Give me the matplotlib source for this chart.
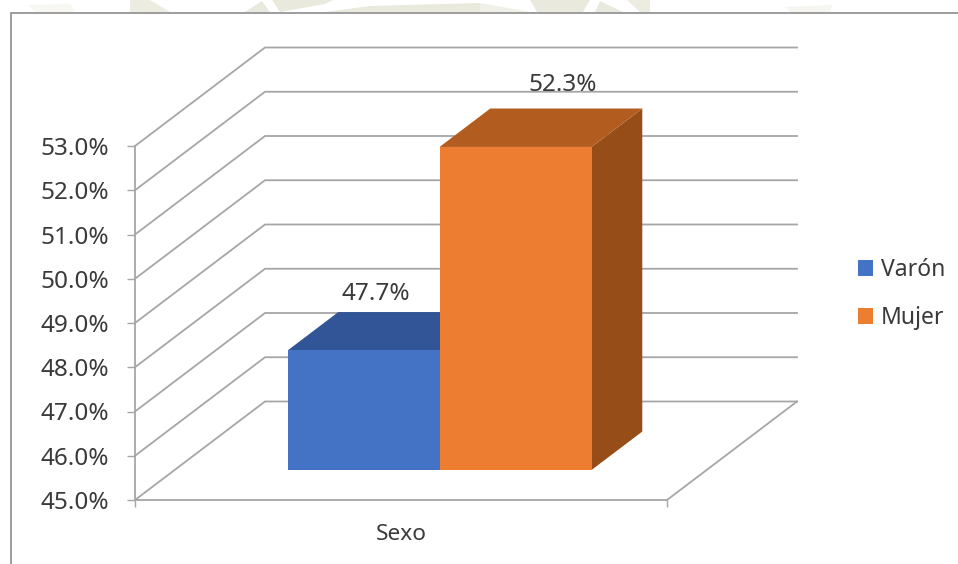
import matplotlib
matplotlib.use("Agg")
import matplotlib.pyplot as plt
from matplotlib.patches import Polygon, Rectangle

plt.rcParams['font.family'] = ['Noto Sans', 'DejaVu Sans']

categories = ["Sexo"]
series_names = ["Varón", "Mujer"]
series_values = [47.7, 52.3]
value_labels = ["47.7%", "52.3%"]
tick_values = [45, 46, 47, 48, 49, 50, 51, 52, 53]
tick_labels = ["45.0%", "46.0%", "47.0%", "48.0%", "49.0%", "50.0%", "51.0%", "52.0%", "53.0%"]

W, H = 958, 564
GRID = "#A6A6A6"
TEXT = "#3A3A3A"
front = ["#4472C4", "#ED7D31"]
top = ["#325597", "#B35C20"]
side = ["#2F5597", "#964D18"]
label_offsets = [(8.6, 40.5), (34, 44.5)]

fig = plt.figure(figsize=(W / 100, H / 100), dpi=100, facecolor="white")

# faint watermark behind the chart, in figure pixels
bg = fig.add_axes([0, 0, 1, 1], zorder=0)
bg.set_xlim(0, W)
bg.set_ylim(H, 0)
bg.axis("off")
for pts, c in [
    ([(28, 5), (70, 4), (75, 12), (35, 12)], "#F8F7F2"),
    ([(130, 0), (150, 0), (170, 12), (130, 12)], "#ECECE1"),
    ([(245, 12), (262, 1), (270, 12)], "#E9E9DD"),
    ([(272, 0), (333, 0), (325, 4), (280, 12)], "#E9E9DD"),
    ([(325, 12), (370, 6), (480, 3), (480, 12)], "#E9E9DD"),
    ([(480, 3), (530, 12), (480, 12)], "#F0F0E7"),
    ([(530, 0), (590, 0), (583, 12), (537, 12)], "#E9E9DD"),
    ([(600, 1), (623, 12), (595, 12)], "#E9E9DD"),
    ([(627, 0), (650, 0), (650, 12), (640, 12)], "#ECECE1"),
    ([(785, 7), (832, 5), (830, 12), (790, 12)], "#F6F5EF"),
]:
    bg.add_patch(Polygon(pts, closed=True, fc=c, ec="none"))
bg.add_patch(Rectangle((11, 12.5), W, H, fc="white", ec="#8C8C8C", lw=1.2))

ax = fig.add_axes([135 / W, 1 - 500 / H, 532 / W, 354 / H], zorder=1)
ax.patch.set_alpha(0)
ax.set_xlim(0, 1)
ax.set_ylim(45, 53)

DX = 130 / 532
DY = 98.5 / 44.25


def project(x, v, d):
    return x + d * DX, v + d * DY


# back wall, side wall and floor gridlines
for v in tick_values:
    xs, ys = zip(project(0, v, 0), project(0, v, 1), project(1, v, 1))
    ax.plot(xs, ys, color=GRID, lw=1.3, clip_on=False, zorder=1, solid_joinstyle="miter")
xs, ys = zip(project(1, 45, 1), project(1, 45, 0))
ax.plot(xs, ys, color=GRID, lw=1.3, clip_on=False, zorder=1)

# bars
bar_w = 152 / 532
x0 = 0.5 - bar_w - 0.002
d0, d1 = 0.305, 0.695
for i, v in enumerate(series_values):
    xl = x0 + i * bar_w
    xr = xl + bar_w
    face = [project(xl, 45, d0), project(xr, 45, d0), project(xr, v, d0), project(xl, v, d0)]
    roof = [project(xl, v, d0), project(xr, v, d0), project(xr, v, d1), project(xl, v, d1)]
    wall = [project(xr, 45, d0), project(xr, 45, d1), project(xr, v, d1), project(xr, v, d0)]
    ax.add_patch(Polygon(wall, closed=True, fc=side[i], ec="none", clip_on=False, zorder=3))
    ax.add_patch(Polygon(roof, closed=True, fc=top[i], ec="none", clip_on=False, zorder=3))
    ax.add_patch(Polygon(face, closed=True, fc=front[i], ec="none", clip_on=False, zorder=4,
                         label=series_names[i]))
    ax.annotate(value_labels[i], xy=project((xl + xr) / 2, v, d0), xytext=label_offsets[i],
                textcoords="offset points", ha="center", va="center",
                fontsize=17.5, color=TEXT, zorder=6)

for s in ["top", "right"]:
    ax.spines[s].set_visible(False)
for s in ["left", "bottom"]:
    ax.spines[s].set_color(GRID)
    ax.spines[s].set_linewidth(1.3)
ax.set_yticks(tick_values)
ax.set_yticklabels(tick_labels, fontsize=17.5, color=TEXT)
ax.tick_params(axis="y", length=5.5, width=1, color=GRID, pad=13)
ax.set_xticks([0, 1])
ax.set_xticklabels(["", ""])
ax.tick_params(axis="x", length=5, width=1, color=GRID)
ax.text(0.5, 45 - 34 / 44.25, categories[0], ha="center", va="center",
        fontsize=16.3, color=TEXT, clip_on=False)

handles, labels = ax.get_legend_handles_labels()
leg = fig.legend(handles, labels, loc="center left", bbox_to_anchor=(837 / W, 1 - 294 / H),
                 frameon=False, fontsize=16.5, handlelength=0.65, handleheight=0.65,
                 handletextpad=0.35, labelspacing=1.05, labelcolor=TEXT)

fig.savefig("out.png", dpi=100, facecolor="white")
